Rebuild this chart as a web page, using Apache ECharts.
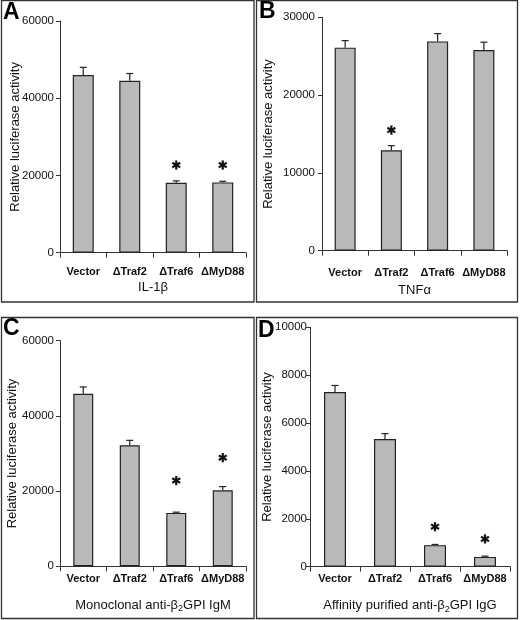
<!DOCTYPE html>
<html>
<head>
<meta charset="utf-8">
<script src="https://cdn.jsdelivr.net/npm/echarts/dist/echarts.min.js"></script>
<style>
html,body{margin:0;padding:0;background:#fff;}
#c{width:520px;height:620px;}
</style>
</head>
<body>
<div id="c"></div>
<script>
// ---- data ----
const categories = ['Vector', 'ΔTraf2', 'ΔTraf6', 'ΔMyD88'];

const valuesA = [46000, 44500, 18100, 18200];
const errorsA = [2000, 1900, 500, 300];
const starsA  = [null, null, 22700, 22700];

const valuesB = [26100, 12900, 26900, 25800];
const errorsB = [900, 600, 1000, 1000];
const starsB  = [null, 15500, null, null];

const valuesC = [45900, 32200, 14200, 20200];
const errorsC = [1800, 1300, 200, 1000];
const starsC  = [null, null, 22800, 28900];

const valuesD = [7300, 5330, 900, 410];
const errorsD = [270, 230, 30, 30];
const starsD  = [null, null, 1670, 1160];

const yMax = [60000, 30000, 60000, 10000];
const yStep = [20000, 10000, 20000, 2000];
const panelLetters = ['A', 'B', 'C', 'D'];
const yTitle = 'Relative luciferase activity';
const xTitles = [
  'IL-1β',
  'TNFα',
  'Monoclonal anti-β{sub|2}GPI IgM',
  'Affinity purified anti-β{sub|2}GPI IgG'
];

// ---- layout ----
const FONT = '"Liberation Sans", Arial, Helvetica, sans-serif';
const grids = [
  {left: 60,  top: 21,    width: 186, height: 231.7},
  {left: 322, top: 17.3,  width: 185, height: 233.4},
  {left: 60,  top: 340.7, width: 186, height: 225.6},
  {left: 310, top: 327.3, width: 200, height: 239.4}
];
const yNameGap = [38.5, 47, 41.5, 36];
const yLabelMargin = [6, 7, 6, 3];
const xLabelMargin = [14, 16.5, 7.5, 7];
const xNameGap = [27, 32, 31, 31];
const barWidths = [21, 21, 20, 22];
const panels = [
  {vals: valuesA, errs: errorsA, stars: starsA},
  {vals: valuesB, errs: errorsB, stars: starsB},
  {vals: valuesC, errs: errorsC, stars: starsC},
  {vals: valuesD, errs: errorsD, stars: starsD}
];
const borders = [
  {x: 1.5, y: 0.5, width: 252.5, height: 301.5},
  {x: 256.5, y: 0.5, width: 261, height: 301.5},
  {x: 1.5, y: 317.5, width: 252.5, height: 301},
  {x: 256.5, y: 317.5, width: 261, height: 301}
];
const letterPos = [[3, 1], [259, 0], [3, 317], [258, 319]];

const INK = '#111';

const xAxes = [], yAxes = [], series = [];
panels.forEach((p, i) => {
  xAxes.push({
    type: 'category', gridIndex: i, data: categories,
    axisLine: {lineStyle: {color: '#333', width: 1}},
    axisTick: {show: true, length: 5, lineStyle: {color: '#333'}},
    axisLabel: {interval: 0, fontFamily: FONT, fontWeight: 'bold', fontSize: 11, color: INK, margin: xLabelMargin[i]},
    name: xTitles[i], nameLocation: 'middle', nameGap: xNameGap[i], nameMoveOverlap: false,
    nameTextStyle: {
      fontFamily: FONT, fontSize: 13, color: INK, lineHeight: 16,
      rich: {sub: {fontFamily: FONT, fontSize: 9, color: INK, verticalAlign: 'bottom', lineHeight: 16, padding: [6, 0, 0, 0]}}
    }
  });
  yAxes.push({
    type: 'value', gridIndex: i, min: 0, max: yMax[i], interval: yStep[i],
    axisLine: {show: true, lineStyle: {color: '#333', width: 1}},
    axisTick: {show: true, length: 4, lineStyle: {color: '#333'}},
    splitLine: {show: false},
    axisLabel: {fontFamily: FONT, fontSize: 11.5, color: INK, margin: yLabelMargin[i],
      formatter: v => String(v)},
    name: yTitle, nameLocation: 'middle', nameGap: yNameGap[i], nameMoveOverlap: false,
    nameTextStyle: {fontFamily: FONT, fontSize: 13, color: INK}
  });
  series.push({
    type: 'bar', xAxisIndex: i, yAxisIndex: i, data: p.vals,
    barWidth: barWidths[i],
    itemStyle: {color: '#b9b9b9', borderColor: '#222', borderWidth: 1.2},
    emphasis: {disabled: true}, silent: true
  });
  series.push({
    type: 'custom', xAxisIndex: i, yAxisIndex: i, z: 5, silent: true,
    data: p.vals.map((v, k) => [k, v, v + p.errs[k], p.stars[k] == null ? -1 : p.stars[k]]),
    renderItem: function (params, api) {
      const x = api.value(0);
      const a = api.coord([x, api.value(1)]);
      const b = api.coord([x, api.value(2)]);
      const st = {stroke: '#222', lineWidth: 1.2};
      const children = [
        {type: 'line', shape: {x1: a[0], y1: a[1], x2: b[0], y2: b[1]}, style: st},
        {type: 'line', shape: {x1: b[0] - 3.5, y1: b[1], x2: b[0] + 3.5, y2: b[1]}, style: st}
      ];
      const s = api.value(3);
      if (s > 0) {
        const c = api.coord([x, s]);
        const r = 4.6;
        [90, 30, 150].forEach(deg => {
          const t = deg * Math.PI / 180;
          children.push({type: 'line', shape: {
            x1: c[0] - r * Math.cos(t), y1: c[1] - r * Math.sin(t),
            x2: c[0] + r * Math.cos(t), y2: c[1] + r * Math.sin(t)
          }, style: {stroke: '#111', lineWidth: 2.2}});
        });
      }
      return {type: 'group', children: children};
    }
  });
});

const graphics = [];
borders.forEach(b => graphics.push({
  type: 'rect', shape: b, silent: true,
  style: {fill: 'none', stroke: '#333', lineWidth: 1.3}
}));
panelLetters.forEach((L, i) => graphics.push({
  type: 'text', left: letterPos[i][0], top: letterPos[i][1], silent: true,
  style: {text: L, fontFamily: FONT, fontWeight: 'bold', fontSize: 23, fill: '#000'}
}));

const chart = echarts.init(document.getElementById('c'), null, {renderer: 'canvas'});
chart.setOption({
  animation: false,
  backgroundColor: '#fff',
  grid: grids,
  xAxis: xAxes,
  yAxis: yAxes,
  series: series,
  graphic: graphics
});
</script>
</body>
</html>
